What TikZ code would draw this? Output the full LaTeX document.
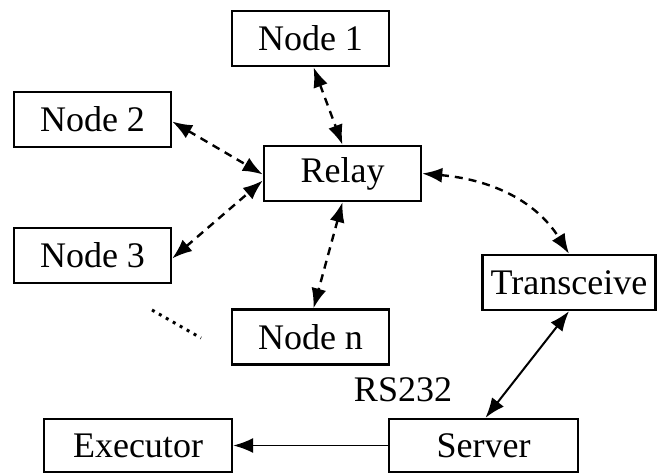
\documentclass[tikz,border=0pt]{standalone}
\usepackage{fontspec}
\setmainfont{Liberation Serif}
\usetikzlibrary{arrows.meta,calc}
\begin{document}
\begin{tikzpicture}[x=1pt,y=-1pt,
  box/.style={draw,line width=2.4pt,inner sep=0pt,minimum height=55pt,font=\fontsize{36}{40}\selectfont},
  tip/.style={Latex[length=20pt,width=15pt]},
  darr/.style={line width=2.4pt,dash pattern=on 8pt off 6pt,{Latex[length=20pt,width=15pt]}-{Latex[length=20pt,width=15pt]}},
  sarr/.style={line width=2pt,{Latex[length=20pt,width=15pt]}-{Latex[length=20pt,width=15pt]}},
  oarr/.style={line width=1.8pt,-{Latex[length=20pt,width=15pt]}}]
\useasboundingbox (0,0) rectangle (658,473);
\node[box,minimum width=157pt] (n1) at (310.5,38.5) {Node 1};
\node[box,minimum width=157pt] (n2) at (92.5,119.5) {Node 2};
\node[box,minimum width=157pt] (relay) at (342.5,173.5) {Relay};
\node[box,minimum width=157pt] (n3) at (92.5,255.5) {Node 3};
\node[box,minimum width=173pt] (tr) at (569,282.5) {Transceive};
\node[box,minimum width=157pt] (nn) at (310.5,337) {Node n};
\node[box,minimum width=188pt,minimum height=53pt] (ex) at (138,445.5) {Executor};
\node[box,minimum width=189pt,minimum height=53pt] (sv) at (483.5,445.5) {Server};
\node[font=\fontsize{36}{40}\selectfont,inner sep=0pt] (rs) at (403,390) {RS232};
\draw[darr] ([xshift=3pt]n1.south) -- (relay.north);
\draw[darr] ([yshift=-2pt]n2.east) -- ([yshift=-1pt]relay.west);
\draw[darr] ([yshift=-3pt]n3.east) -- ([yshift=-7pt]relay.west);
\draw[darr] (relay.south) -- ([xshift=3pt]nn.north);
\draw[darr] (relay.east) to[out=-5,in=122] (tr.north);
\draw[sarr] ([xshift=2pt]sv.north) -- (tr.south);
\draw[oarr] (sv.west) -- (ex.east);
\coordinate (d1) at (152,310);
\coordinate (d2) at (201,338);
\draw[line width=3pt,dash pattern=on 3pt off 5pt] (d1) -- (d2);
\end{tikzpicture}
\end{document}
